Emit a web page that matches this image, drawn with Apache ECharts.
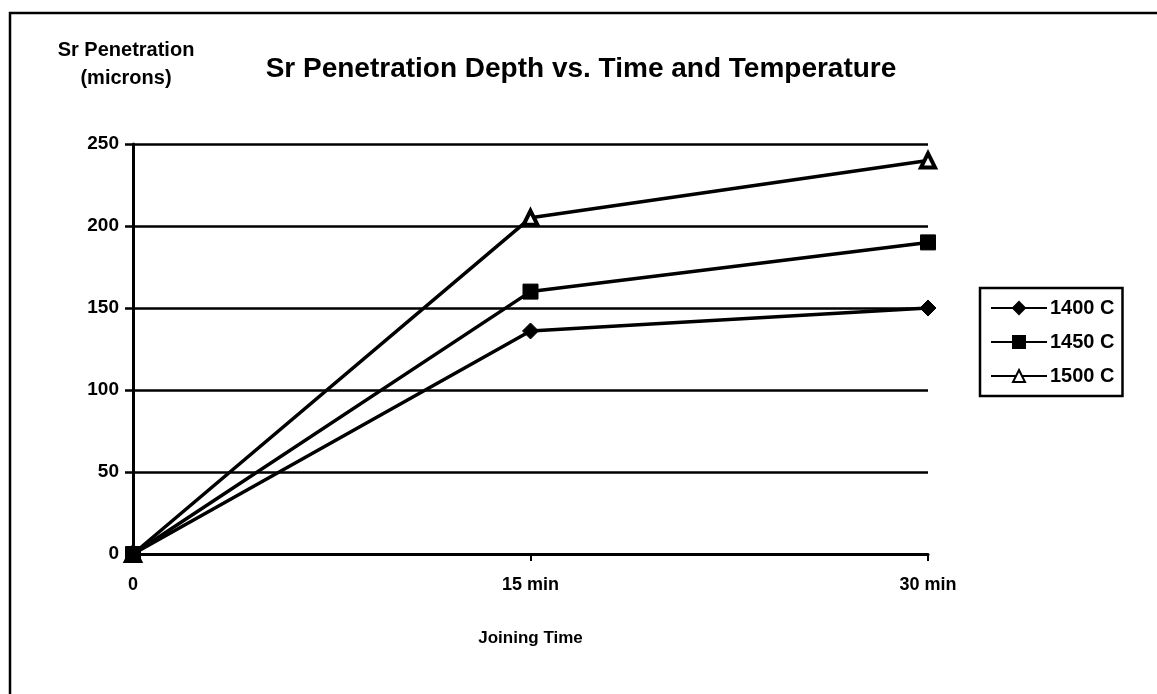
<!DOCTYPE html>
<html>
<head>
<meta charset="utf-8">
<script src="https://cdn.jsdelivr.net/npm/echarts@6/dist/echarts.min.js"></script>
<style>
  html, body { margin: 0; padding: 0; background: #fff; }
  #chart { width: 1157px; height: 694px; }
</style>
</head>
<body>
<div id="chart"></div>
<script>
// Joining time categories and penetration depths (microns) per temperature
const joiningTimes = ['0', '15 min', '30 min'];
const depth1400 = [0, 136, 150];
const depth1450 = [0, 160, 190];
const depth1500 = [0, 205, 240];
const seriesNames = ['1400 C', '1450 C', '1500 C'];
const yTicks = [0, 50, 100, 150, 200, 250];

const FONT = '"Liberation Sans", Arial, sans-serif';

const chart = echarts.init(document.getElementById('chart'));

function lineSeries(name, data, symbol, symbolSize, fill, z) {
  return {
    name: name,
    type: 'line',
    data: data,
    z: z,
    symbol: symbol,
    symbolSize: symbolSize,
    showAllSymbol: true,
    lineStyle: { color: '#000', width: 3.5 },
    itemStyle: { color: fill, borderColor: '#000', borderWidth: fill === '#fff' ? 4 : 1 },
    emphasis: { disabled: true },
    animation: false
  };
}

chart.setOption({
  backgroundColor: '#fff',
  animation: false,
  textStyle: { fontFamily: FONT, color: '#000' },
  graphic: [
    {
      type: 'rect',
      shape: { x: 10, y: 13, width: 1300, height: 900 },
      style: { fill: 'none', stroke: '#000', lineWidth: 2.5 },
      silent: true
    },
    {
      type: 'text',
      x: 126,
      y: 36,
      style: {
        text: 'Sr Penetration\n(microns)',
        font: 'bold 20px ' + FONT,
        fill: '#000',
        align: 'center',
        lineHeight: 28
      }
    }
  ],
  title: {
    text: 'Sr Penetration Depth vs. Time and Temperature',
    left: 576,
    top: 50,
    textAlign: 'center',
    textStyle: { fontFamily: FONT, fontWeight: 'bold', fontSize: 28, color: '#000' }
  },
  legend: {
    orient: 'vertical',
    left: 980,
    top: 288,
    data: seriesNames,
    itemWidth: 56,
    itemHeight: 15,
    itemGap: 14,
    padding: [10, 8, 10, 10],
    borderColor: '#000',
    borderWidth: 2.5,
    textStyle: { fontFamily: FONT, fontWeight: 'bold', fontSize: 20, color: '#000', padding: [0, 0, 0, -2] }
  },
  grid: { left: 133, right: 229, top: 144, bottom: 140 },
  xAxis: {
    type: 'category',
    data: joiningTimes,
    boundaryGap: false,
    name: 'Joining Time',
    nameLocation: 'middle',
    nameGap: 76,
    nameTextStyle: { fontFamily: FONT, fontWeight: 'bold', fontSize: 17, color: '#000' },
    axisLine: { lineStyle: { color: '#000', width: 3 } },
    axisTick: { show: true, length: 7, lineStyle: { color: '#000', width: 2 } },
    axisLabel: { fontFamily: FONT, fontWeight: 'bold', fontSize: 18, color: '#000', margin: 22 },
    splitLine: { show: false }
  },
  yAxis: {
    type: 'value',
    min: 0,
    max: 250,
    interval: 50,
    axisLine: { show: true, lineStyle: { color: '#000', width: 3 } },
    axisTick: { show: true, length: 8, lineStyle: { color: '#000', width: 2.5 } },
    axisLabel: {
      fontFamily: FONT, fontWeight: 'bold', fontSize: 19, color: '#000', margin: 14,
      formatter: function (v) { return yTicks.indexOf(v) >= 0 ? String(v) : ''; }
    },
    splitLine: { show: true, lineStyle: { color: '#000', width: 2.5 } }
  },
  series: [
    lineSeries(seriesNames[0], depth1400, 'diamond', 16, '#000', 2),
    lineSeries(seriesNames[1], depth1450, 'rect', 15, '#000', 3),
    lineSeries(seriesNames[2], depth1500, 'triangle', 14, '#fff', 2)
  ]
});
</script>
</body>
</html>
